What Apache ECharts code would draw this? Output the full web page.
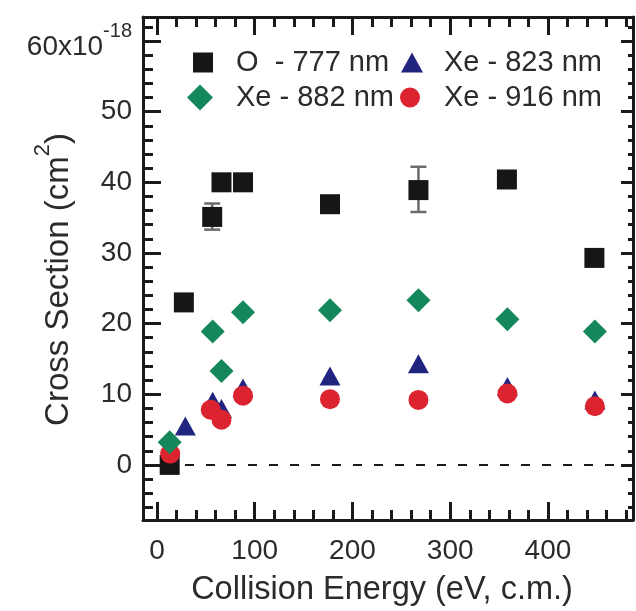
<!DOCTYPE html>
<html><head><meta charset="utf-8">
<script src="https://cdn.jsdelivr.net/npm/echarts@6/dist/echarts.min.js"></script>
<style>html,body{margin:0;padding:0;background:#fff}#c{width:636px;height:611px}</style>
</head><body><div id="c"></div>
<script>
// ---- data ----
const xMajorTicks = [0, 100, 200, 300, 400];
const xMinorTicks = [20, 40, 60, 80, 120, 140, 160, 180, 220, 240, 260, 280, 320, 340, 360, 380, 420, 440, 460, 480];
const yMajorTicks = [0, 10, 20, 30, 40, 50, 60];
const yMinorTicks = [-6, -4, -2, 2, 4, 6, 8, 12, 14, 16, 18, 22, 24, 26, 28, 32, 34, 36, 38, 42, 44, 46, 48, 52, 54, 56, 58, 62];

const energyO777 = [13, 27.5, 56.5, 66, 88, 177, 267.5, 358, 447.5];
const sigmaO777 = [0, 23.0, 35.1, 40.0, 40.0, 36.9, 38.9, 40.4, 29.3];
const errEnergyO777 = [56.5, 267.5];
const errLowO777 = [33.3, 35.8];
const errHighO777 = [37.0, 42.2];

const energyXe823 = [29, 57, 66, 88, 177, 267.5, 358.5, 448];
const sigmaXe823 = [5.5, 9.0, 8.0, 10.9, 12.6, 14.3, 11.1, 9.2];

const energyXe882 = [13, 57, 66, 88, 177, 267.5, 358.5, 448];
const sigmaXe882 = [3.2, 18.9, 13.3, 21.6, 21.9, 23.3, 20.6, 18.9];

const energyXe916 = [13.5, 55, 66, 88, 177, 267.5, 358.5, 448];
const sigmaXe916 = [1.6, 7.8, 6.4, 9.8, 9.3, 9.2, 10.1, 8.3];

const seriesNames = ['O  - 777 nm', 'Xe - 823 nm', 'Xe - 882 nm', 'Xe - 916 nm'];

// ---- styling ----
const AX = '#1a1a1a';
const TXT = '#2b2b2b';
const FONT = '"Liberation Sans", Arial, sans-serif';
const XMIN = -14.3, XMAX = 487, YMIN = -7.8, YMAX = 63.4;
const pairs = (xs, ys) => xs.map((x, i) => [x, ys[i]]);

function xAxisDef(grid, pos, ticks, len, line, labels) {
  return {
    type: 'value', gridIndex: grid, position: pos, min: XMIN, max: XMAX,
    axisLine: { show: line, onZero: false, lineStyle: { color: AX, width: 3 } },
    axisTick: { show: true, inside: true, length: len, customValues: ticks, lineStyle: { color: AX, width: 3 } },
    axisLabel: labels ? { show: true, customValues: xMajorTicks, margin: 17, color: TXT, fontFamily: FONT, fontSize: 28 } : { show: false },
    splitLine: { show: false }
  };
}
function yAxisDef(grid, pos, ticks, len, line, labels) {
  return {
    type: 'value', gridIndex: grid, position: pos, min: YMIN, max: YMAX,
    axisLine: { show: line, onZero: false, lineStyle: { color: AX, width: 3 } },
    axisTick: { show: true, inside: true, length: len, customValues: ticks, lineStyle: { color: AX, width: 3 } },
    axisLabel: labels ? {
      show: true, customValues: yMajorTicks, margin: 11, color: TXT, fontFamily: FONT, fontSize: 28,
      formatter: v => v === 60 ? '{a|60x10}{s|-18}' : '{a|' + v + '}',
      rich: {
        a: { fontSize: 28, lineHeight: 28, fontFamily: FONT, color: TXT, verticalAlign: 'bottom' },
        s: { fontSize: 20, fontFamily: FONT, color: TXT, verticalAlign: 'top', padding: [0, 0, 20, 0] }
      }
    } : { show: false },
    splitLine: { show: false }
  };
}

const xA0 = xAxisDef(0, 'bottom', xMajorTicks, 18, true, true);
xA0.name = 'Collision Energy (eV, c.m.)';
xA0.nameLocation = 'middle';
xA0.nameGap = 54;
xA0.nameMoveOverlap = false;
xA0.nameTextStyle = { fontFamily: FONT, fontSize: 32.5, color: TXT, lineHeight: 33, padding: [0, 12, 0, 0] };

const yA0 = yAxisDef(0, 'left', yMajorTicks, 18, true, true);
yA0.name = '{a|Cross Section (cm}{s|2}{a|)}';
yA0.nameLocation = 'middle';
yA0.nameRotate = 90;
yA0.nameGap = 68;
yA0.nameMoveOverlap = false;
yA0.nameTextStyle = {
  padding: [0, 22, 0, 0],
  rich: {
    a: { fontSize: 33, lineHeight: 33, fontFamily: FONT, color: TXT, verticalAlign: 'bottom' },
    s: { fontSize: 22, fontFamily: FONT, color: TXT, verticalAlign: 'top', padding: [0, 0, 21, 0] }
  }
};

function legendDef(name, left, top, w, h, pad) {
  return {
    data: [name], left: left, top: top, itemWidth: w, itemHeight: h, selectedMode: false,
    padding: 0,
    textStyle: { fontFamily: FONT, fontSize: 29, color: TXT, padding: [0, 0, 0, pad] }
  };
}

const gridBox = { left: 143, right: 3, top: 17, bottom: 91, containLabel: false, outerBoundsMode: 'none' };

const option = {
  animation: false,
  backgroundColor: '#fff',
  grid: [Object.assign({}, gridBox), Object.assign({}, gridBox)],
  xAxis: [
    xA0,
    xAxisDef(0, 'top', xMajorTicks, 18, true, false),
    xAxisDef(1, 'bottom', xMinorTicks, 10, false, false),
    xAxisDef(1, 'top', xMinorTicks, 10, false, false)
  ],
  yAxis: [
    yA0,
    yAxisDef(0, 'right', yMajorTicks, 12, true, false),
    yAxisDef(1, 'left', yMinorTicks, 10, false, false),
    yAxisDef(1, 'right', yMinorTicks, 5, false, false)
  ],
  legend: [
    legendDef(seriesNames[0], 193, 48, 20, 20, 18),
    legendDef(seriesNames[1], 401, 48, 22, 20, 16),
    legendDef(seriesNames[2], 187, 83, 26, 26, 18),
    legendDef(seriesNames[3], 400, 83, 20, 20, 19)
  ],
  series: [
    {
      type: 'custom', name: 'err', xAxisIndex: 0, yAxisIndex: 0,
      data: errEnergyO777.map((x, i) => [x, errLowO777[i], errHighO777[i]]),
      encode: { x: 0, y: [1, 2] },
      renderItem: function (params, api) {
        const x = api.value(0);
        const p1 = api.coord([x, api.value(1)]);
        const p2 = api.coord([x, api.value(2)]);
        const w = 8;
        const st = { stroke: '#6b6b6b', lineWidth: 2.5 };
        return {
          type: 'group', children: [
            { type: 'line', shape: { x1: p1[0], y1: p1[1], x2: p2[0], y2: p2[1] }, style: st },
            { type: 'line', shape: { x1: p1[0] - w, y1: p1[1], x2: p1[0] + w, y2: p1[1] }, style: st },
            { type: 'line', shape: { x1: p2[0] - w, y1: p2[1], x2: p2[0] + w, y2: p2[1] }, style: st }
          ]
        };
      },
      markLine: {
        z: 1, silent: true, symbol: 'none', label: { show: false },
        lineStyle: { color: AX, width: 2, type: [9, 12] },
        data: [{ yAxis: 0 }]
      }
    },
    {
      type: 'scatter', name: seriesNames[0], xAxisIndex: 0, yAxisIndex: 0,
      symbol: 'rect', symbolSize: 20, itemStyle: { color: '#161616', opacity: 1 },
      data: pairs(energyO777, sigmaO777)
    },
    {
      type: 'scatter', name: seriesNames[1], xAxisIndex: 0, yAxisIndex: 0,
      symbol: 'triangle', symbolSize: [21, 19], itemStyle: { color: '#222580', opacity: 1 },
      data: pairs(energyXe823, sigmaXe823)
    },
    {
      type: 'scatter', name: seriesNames[3], xAxisIndex: 0, yAxisIndex: 0,
      symbol: 'circle', symbolSize: 20, itemStyle: { color: '#dc2430', opacity: 1 },
      data: pairs(energyXe916, sigmaXe916)
    },
    {
      type: 'scatter', name: seriesNames[2], xAxisIndex: 0, yAxisIndex: 0,
      symbol: 'diamond', symbolSize: 24, itemStyle: { color: '#14885a', opacity: 1 },
      data: pairs(energyXe882, sigmaXe882)
    }
  ]
};

const chart = echarts.init(document.getElementById('c'), null, { renderer: 'canvas' });
chart.setOption(option);
</script>
</body></html>
